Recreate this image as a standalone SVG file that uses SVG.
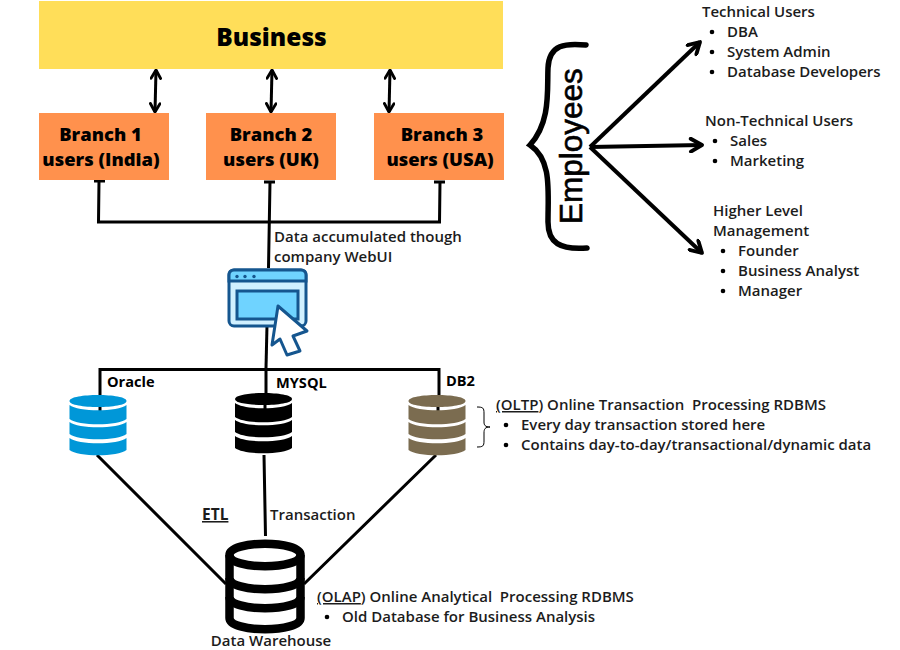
<svg xmlns="http://www.w3.org/2000/svg" width="900" height="650" viewBox="0 0 900 650">
<style>
text{font-family:"Open Sans","Noto Sans",sans-serif;font-weight:600;font-size:15px;fill:#1c1c1c;white-space:pre}
.b{font-weight:800;fill:#000}
.branch{font-size:18.400px;text-anchor:middle}
.db{font-weight:700;font-size:14.600px}
.bar{fill:#ffde59}
.org{fill:#ff914d}
.c{fill:none;stroke:#000;stroke-width:3}
.c2{fill:none;stroke:#000;stroke-width:4}
.u{text-decoration:underline}
.dot{fill:#000}
</style>
<defs>
<marker id="a" viewBox="0 0 10 10" refX="8.5" refY="5" markerWidth="4" markerHeight="4" orient="auto-start-reverse"><path d="M1.5 1L8.5 5L1.5 9" fill="none" stroke="#000" stroke-width="2.4" stroke-linecap="round" stroke-linejoin="round"/></marker>
<g id="stack">
<path d="M-28.500 -24C-28.500 -32 28.500 -32 28.500 -24C28.500 -16 -28.500 -16 -28.500 -24Z"/>
<path d="M-28.500 -20C-20 -13 20 -13 28.500 -20V-6C20 1 -20 1 -28.500 -6Z"/>
<path d="M-28.500 -3C-20 4 20 4 28.500 -3V9C20 16 -20 16 -28.500 9Z"/>
<path d="M-28.500 13C-20 20 20 20 28.500 13V25C20 32 -20 32 -28.500 25Z"/>
</g>
</defs>

<g id="connectors">
<path class="c" marker-start="url(#a)" marker-end="url(#a)" d="M156 70L155 112"/>
<path class="c" marker-start="url(#a)" marker-end="url(#a)" d="M272 70L271 112"/>
<path class="c" marker-start="url(#a)" marker-end="url(#a)" d="M390 70L389 112"/>
<path class="c" d="M94 181H105M99 181L98.500 222H439.500L440 182M434 182H445M264 182H275M270 182L268.500 268"/>
<path class="c" d="M267 325L266 368"/>
<path class="c" d="M100 399V369.500H439V399M266 368V399"/>
<path class="c" d="M100 405V411M265 405V411M438 405V411"/>
<path class="c" d="M97 455L226 584M264 455L265.500 536M436 455L304 584"/>
<path class="c2" marker-end="url(#a)" d="M590 147L700 42"/>
<path class="c2" marker-end="url(#a)" d="M590 147L702 145"/>
<path class="c2" marker-end="url(#a)" d="M590 147L702 253"/>
<path fill="none" stroke="#000" stroke-width="5.500" stroke-linecap="round" d="M586 45C566 43 549 44 548 68C547 90 551 122 530 145C552 160 548 190 548 222C548 243 560 250 587 248"/>
</g>

<g id="business"><rect class="bar" x="39" y="1" width="464" height="68"/><text class="b" x="271.500" y="46" text-anchor="middle" style="font-size:24.500px">Business</text></g>
<g id="branch1"><rect class="org" x="39" y="113" width="130" height="67"/><text class="b branch" x="100.500" y="141">Branch 1</text><text class="b branch" x="101" y="166">users (India)</text></g>
<g id="branch2"><rect class="org" x="206" y="113" width="130" height="67"/><text class="b branch" x="271" y="141">Branch 2</text><text class="b branch" x="271" y="166">users (UK)</text></g>
<g id="branch3"><rect class="org" x="374" y="113" width="130" height="67"/><text class="b branch" x="442" y="141">Branch 3</text><text class="b branch" x="440" y="166">users (USA)</text></g>

<g id="employees-label"><text transform="translate(582 224) rotate(-90)" style="font-family:'Liberation Sans',sans-serif;font-weight:400;font-size:31.500px;fill:#000;stroke:#000;stroke-width:.6">Employees</text></g>

<g id="technical-users"><text x="702" y="17">Technical Users</text><circle class="dot" cx="712" cy="32" r="2.300"/><text x="727" y="37">DBA</text><circle class="dot" cx="712" cy="52" r="2.300"/><text x="727" y="57">System Admin</text><circle class="dot" cx="712" cy="72" r="2.300"/><text x="727" y="77">Database Developers</text></g>
<g id="non-technical-users"><text x="705" y="126">Non-Technical Users</text><circle class="dot" cx="715" cy="141" r="2.300"/><text x="730" y="146">Sales</text><circle class="dot" cx="715" cy="161" r="2.300"/><text x="730" y="166">Marketing</text></g>
<g id="management"><text x="713" y="216">Higher Level</text><text x="713" y="236">Management</text><circle class="dot" cx="723" cy="251" r="2.300"/><text x="738" y="256">Founder</text><circle class="dot" cx="723" cy="271" r="2.300"/><text x="738" y="276">Business Analyst</text><circle class="dot" cx="723" cy="291" r="2.300"/><text x="738" y="296">Manager</text></g>

<g id="webui-label"><text x="274" y="242">Data accumulated though</text><text x="274" y="262">company WebUI</text></g>
<g id="webui">
<rect x="229" y="270" width="77" height="56" rx="5" fill="#d0f0ff" stroke="#15568f" stroke-width="3"/>
<path d="M229 281V275Q229 270 234 270H301Q306 270 306 275V281Z" fill="#6fd3ff" stroke="#15568f" stroke-width="3"/>
<rect x="237" y="291" width="61" height="28" fill="#6fd3ff" stroke="#15568f" stroke-width="3"/>
<circle cx="237" cy="276.500" r="1.700" fill="#15568f"/><circle cx="245" cy="276.500" r="1.700" fill="#15568f"/><circle cx="254" cy="276.500" r="1.700" fill="#15568f"/>
<path d="M278 306L307 331L293 336L300 351L287 355L280 339L272 345Z" fill="#fff" stroke="#15568f" stroke-width="3" stroke-linejoin="round"/>
</g>

<g id="oracle"><use href="#stack" x="98" y="425" fill="#0097d8"/><text x="107" y="387" class="b db">Oracle</text></g>
<g id="mysql"><use href="#stack" x="263.500" y="423" fill="#000"/><text x="276" y="388" class="b db">MYSQL</text></g>
<g id="db2"><use href="#stack" x="437" y="425" fill="#7b6c50"/><text x="446" y="386" class="b db">DB2</text></g>

<g id="oltp-note">
<path fill="none" stroke="#000" stroke-width="1" d="M477 407C483 407 484 408 484 413V422C484 425 485 427 490 427C485 427 484 429 484 433V441C484 446 483 447 477 447"/>
<text x="496" y="410"><tspan class="u">(OLTP</tspan>) Online Transaction  Processing RDBMS</text>
<circle class="dot" cx="506" cy="425" r="2.300"/><text x="521" y="430">Every day transaction stored here</text>
<circle class="dot" cx="506" cy="445" r="2.300"/><text x="521" y="450">Contains day-to-day/transactional/dynamic data</text>
</g>

<g id="edge-labels"><text x="202" y="520" class="u" style="font-size:15.500px;font-weight:700">ETL</text><text x="270" y="520">Transaction</text></g>

<g id="data-warehouse">
<path d="M229.500 555C229.500 540 300.500 540 300.500 555V618C300.500 633 229.500 633 229.500 618Z" fill="#fff" stroke="#000" stroke-width="8.500"/>
<path fill="none" stroke="#000" stroke-width="8.500" d="M229.500 555C229.500 570 300.500 570 300.500 555M229.500 578C229.500 593 300.500 593 300.500 578M229.500 597C229.500 612 300.500 612 300.500 597"/>
<text x="271" y="646" text-anchor="middle">Data Warehouse</text>
</g>
<g id="olap-note">
<text x="317" y="602"><tspan class="u">(OLAP</tspan>) Online Analytical  Processing RDBMS</text>
<circle class="dot" cx="327" cy="617" r="2.300"/><text x="342" y="622">Old Database for Business Analysis</text>
</g>
</svg>
